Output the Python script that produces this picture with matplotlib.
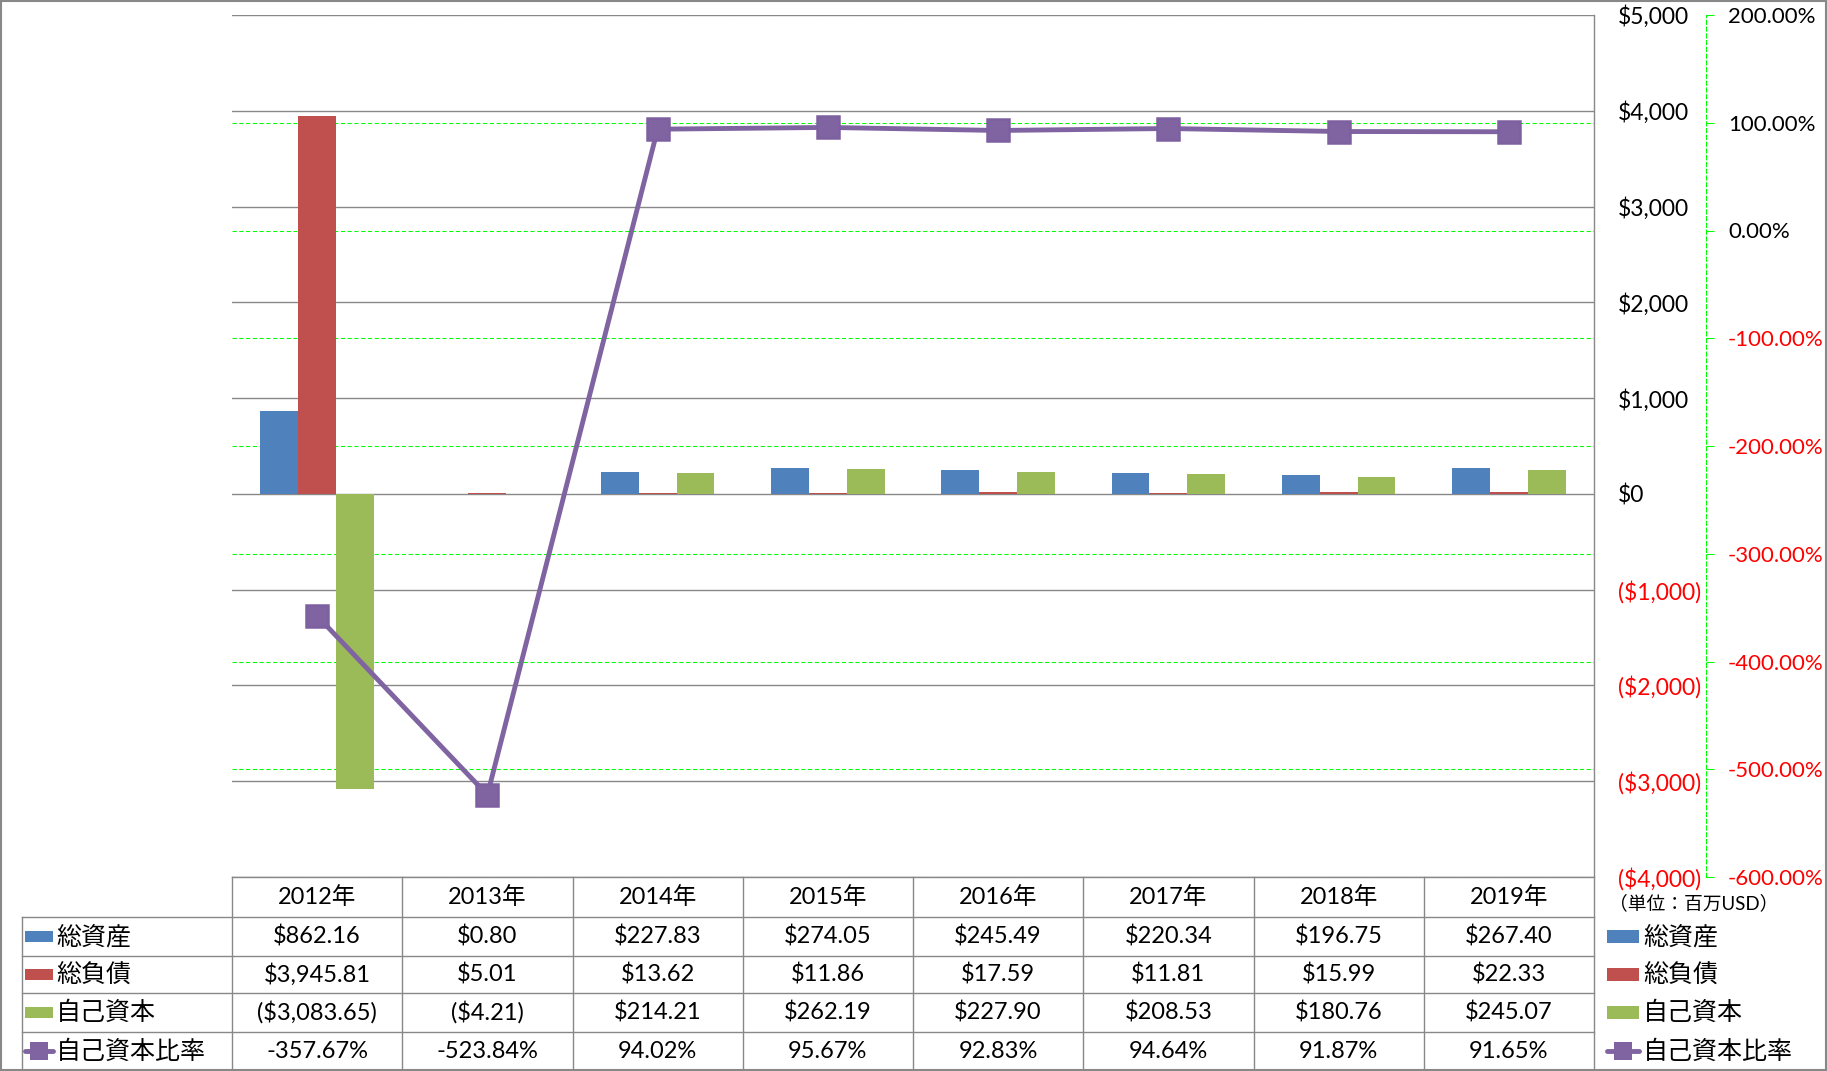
import matplotlib
matplotlib.use("Agg")
import matplotlib.pyplot as plt
from matplotlib.patches import Rectangle
from matplotlib import transforms

plt.rcParams['font.family'] = ['Lato', 'Noto Sans CJK JP', 'DejaVu Sans']

# data
years = ['2012年', '2013年', '2014年', '2015年', '2016年', '2017年', '2018年', '2019年']
total_assets = [862.16, 0.80, 227.83, 274.05, 245.49, 220.34, 196.75, 267.40]
total_liab = [3945.81, 5.01, 13.62, 11.86, 17.59, 11.81, 15.99, 22.33]
equity = [-3083.65, -4.21, 214.21, 262.19, 227.90, 208.53, 180.76, 245.07]
equity_ratio = [-357.67, -523.84, 94.02, 95.67, 92.83, 94.64, 91.87, 91.65]
series_names = ['総資産', '総負債', '自己資本', '自己資本比率']
money_ticks = list(range(-4000, 5001, 1000))
pct_ticks = list(range(-600, 201, 100))

c_blue = '#4F81BD'
c_red = '#C0504D'
c_green = '#9BBB59'
c_purple = '#8064A2'
c_grid = '#888888'
c_lime = '#00FF00'

W, H = 1827, 1071
L, R, T, B = 232, 1594, 15, 877
fig = plt.figure(figsize=(W / 100, H / 100), dpi=100)
rect = [L / W, 1 - B / H, (R - L) / W, (B - T) / H]


def money(v):
    if v < 0:
        return '(${:,.0f})'.format(-v)
    return '${:,.0f}'.format(v)


def money2(v):
    if v < 0:
        return '(${:,.2f})'.format(-v)
    return '${:,.2f}'.format(v)


n = len(years)
x = list(range(n))

# percent axis (green grid + outer spine)
axp = fig.add_axes(rect)
axp.set_zorder(0)
axp.set_xlim(-0.5, n - 0.5)
axp.set_ylim(-600, 200)
axp.set_xticks([])
for s in ['left', 'top', 'bottom']:
    axp.spines[s].set_visible(False)
axp.spines['right'].set_position(('outward', 112 * 0.72))
axp.spines['right'].set_color(c_lime)
axp.spines['right'].set_linestyle((0, (4, 2.5)))
axp.spines['right'].set_linewidth(0.75)
axp.yaxis.tick_right()
axp.set_yticks(pct_ticks)
axp.set_yticklabels(['{:.2f}%'.format(v) for v in pct_ticks])
axp.tick_params(axis='y', direction='out', length=5.8, width=0.75, color=c_lime,
                pad=10, labelsize=16)
for lab, v in zip(axp.get_yticklabels(), pct_ticks):
    lab.set_color('red' if v < 0 else 'black')
axp.yaxis.grid(True, color=c_lime, linestyle=(0, (4, 2.5)), linewidth=0.75)

# money axis (bars)
axb = fig.add_axes(rect)
axb.set_zorder(1)
axb.patch.set_visible(False)
axb.set_xlim(-0.5, n - 0.5)
axb.set_ylim(-4000, 5000)
axb.set_xticks([])
for s in axb.spines.values():
    s.set_visible(False)
axb.yaxis.tick_right()
axb.set_yticks(money_ticks)
axb.set_yticklabels([money(v) for v in money_ticks])
axb.tick_params(axis='y', length=0, pad=17, labelsize=16.5)
for lab, v in zip(axb.get_yticklabels(), money_ticks):
    lab.set_color('red' if v < 0 else 'black')
axb.yaxis.grid(True, color=c_grid, linewidth=1.0)
axb.set_axisbelow(True)

bw = 1 / 4.5
axb.bar([i - bw for i in x], total_assets, width=bw, color=c_blue, zorder=2)
axb.bar(x, total_liab, width=bw, color=c_red, zorder=2)
axb.bar([i + bw for i in x], equity, width=bw, color=c_green, zorder=2)

# line axis
axl = fig.add_axes(rect)
axl.set_zorder(2)
axl.patch.set_visible(False)
axl.set_xlim(-0.5, n - 0.5)
axl.set_ylim(-600, 200)
axl.axis('off')
axl.plot(x, equity_ratio, color=c_purple, linewidth=3.5, marker='s', markersize=15.5,
         markerfacecolor='#8064A2', markeredgecolor='#7D60A0', markeredgewidth=1.8,
         solid_joinstyle='round')

# overlay in pixel coordinates for the data table and legend
ov = fig.add_axes([0, 0, 1, 1])
ov.set_zorder(3)
ov.patch.set_visible(False)
ov.set_xlim(0, W)
ov.set_ylim(H, 0)
ov.axis('off')
tr = transforms.blended_transform_factory(axb.transData, ov.transData)

row_y = [877, 917, 956, 993, 1032, 1070]
lc = '#888888'
lw = 1.0
# horizontal lines
ov.plot([L, R], [row_y[0], row_y[0]], color=lc, lw=lw)
for yy in row_y[1:]:
    ov.plot([22, R], [yy, yy], color=lc, lw=lw)
# vertical lines
ov.plot([22, 22], [row_y[1], row_y[-1]], color=lc, lw=lw)
for i in range(n):
    ov.plot([i - 0.5, i - 0.5], [row_y[0], row_y[-1]], color=lc, lw=lw, transform=tr)
ov.plot([R, R], [T, row_y[-1]], color=lc, lw=lw)

fs = 17
yc = [(row_y[k] + row_y[k + 1]) / 2 for k in range(5)]
for i in x:
    ov.text(i, yc[0], years[i], transform=tr, ha='center', va='center', fontsize=fs)
    ov.text(i, yc[1], money2(total_assets[i]), transform=tr, ha='center', va='center', fontsize=fs)
    ov.text(i, yc[2], money2(total_liab[i]), transform=tr, ha='center', va='center', fontsize=fs)
    ov.text(i, yc[3], money2(equity[i]), transform=tr, ha='center', va='center', fontsize=fs)
    ov.text(i, yc[4], '{:.2f}%'.format(equity_ratio[i]), transform=tr, ha='center',
            va='center', fontsize=fs)


def legend_key(x0, x1, yc, k, h):
    if k < 3:
        ov.add_patch(Rectangle((x0, yc - h / 2), x1 - x0, h,
                               color=[c_blue, c_red, c_green][k], lw=0))
    else:
        ov.plot([x0, x1], [yc, yc], color=c_purple, lw=3.5, solid_capstyle='round')
        ov.plot([(x0 + x1) / 2], [yc], marker='s', ms=13, color=c_purple, mew=0)


for k, name in enumerate(series_names):
    legend_key(25, 53, yc[k + 1], k, 11)
    ov.text(56, yc[k + 1], name, ha='left', va='center', fontsize=18)
    legend_key(1607, 1639, yc[k + 1], k, 13)
    ov.text(1643, yc[k + 1], name, ha='left', va='center', fontsize=18)

ov.text(1609, 903, '（単位：百万USD）', ha='left', va='center', fontsize=13.5)

# chart border
ov.add_patch(Rectangle((1, 1), W - 2.5, H - 2.5, fill=False, edgecolor='#888888', lw=1.5))

fig.savefig('out.png', dpi=100)
